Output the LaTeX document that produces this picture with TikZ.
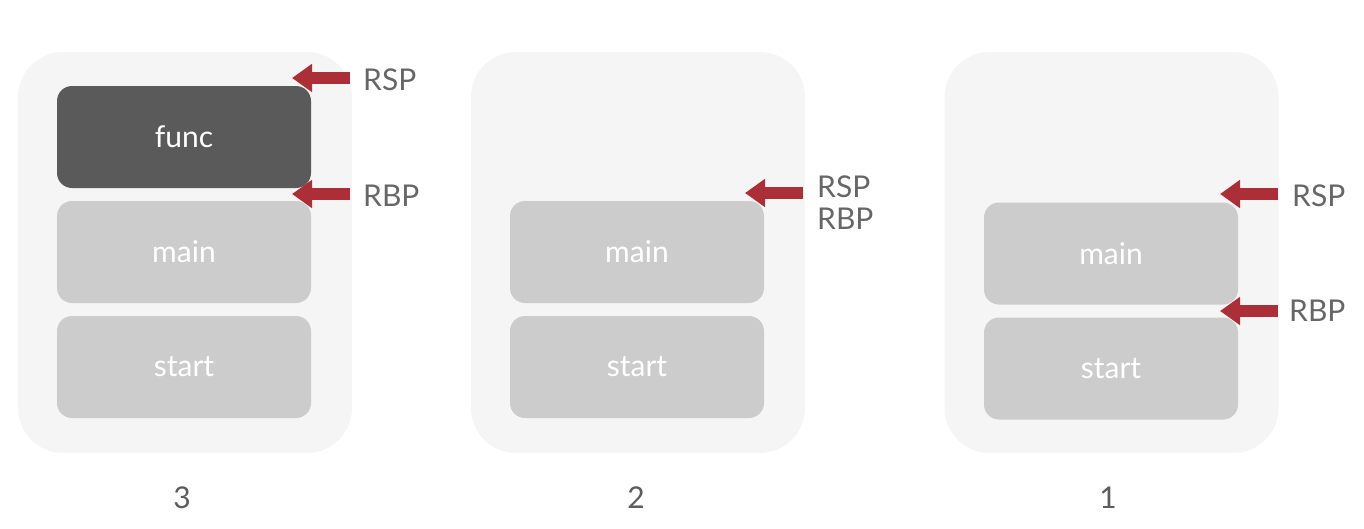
\documentclass[tikz,border=0pt]{standalone}
\usepackage{fontspec}
\setmainfont{Lato}
\usetikzlibrary{arrows.meta}
\definecolor{panelbg}{HTML}{F5F5F5}
\definecolor{framedark}{HTML}{5A5A5A}
\definecolor{framelight}{HTML}{CCCCCC}
\definecolor{ptrred}{HTML}{AC2E36}
\definecolor{labelgray}{HTML}{666666}
\begin{document}
\begin{tikzpicture}[x=1pt,y=-1pt,
  panel/.style={fill=panelbg, draw=none, rounded corners=45pt, minimum width=334pt, minimum height=401pt, inner sep=0pt},
  frame/.style={fill=framelight, draw=none, rounded corners=15pt, minimum width=254pt, minimum height=102pt, inner sep=0pt, text=white, font=\fontsize{30}{36}\selectfont},
  framedk/.style={frame, fill=framedark},
  reg/.style={text=labelgray, font=\fontsize{30}{36}\selectfont, anchor=west, inner sep=0pt},
  num/.style={text=labelgray!90!black, font=\fontsize{30}{36}\selectfont, inner sep=0pt},
  ptr/.style={draw=ptrred, line width=12pt, -{Triangle[length=20pt,width=27pt]}}]
\useasboundingbox (0,0) rectangle (1364,528);
% panel 3
\node[panel] (p3) at (185,252.5) {};
\node[framedk] (f3) at (184,137) {func};
\node[frame] (m3) at (184,252) {main};
\node[frame] (s3) at (184,367) {start};
\node[reg] (rsp3) at (363,80) {RSP};
\node[reg] (rbp3) at (363,196) {RBP};
\coordinate (t3a) at (292,78);
\coordinate (t3b) at (292,194);
\draw[ptr] (rsp3.west) ++(-13,-2) -- (t3a);
\draw[ptr] (rbp3.west) ++(-13,-2) -- (t3b);
\node[num] (n3) at (182,498) {3};
% panel 2
\node[panel] (p2) at (638,252.5) {};
\node[frame] (m2) at (637,252) {main};
\node[frame] (s2) at (637,367) {start};
\node[reg] (rsp2) at (817,187) {RSP};
\node[reg] (rbp2) at (817,219) {RBP};
\coordinate (t2a) at (745,193);
\draw[ptr] (rsp2.west) ++(-14,6) -- (t2a);
\node[num] (n2) at (636,498) {2};
% panel 1
\node[panel] (p1) at (1111.5,252.5) {};
\node[frame] (m1) at (1111,253.5) {main};
\node[frame] (s1) at (1111,368.5) {start};
\node[reg] (rsp1) at (1292,196) {RSP};
\node[reg] (rbp1) at (1289,311) {RBP};
\coordinate (t1a) at (1220,194);
\coordinate (t1b) at (1220,311);
\draw[ptr] (rsp1.west) ++(-14,-2) -- (t1a);
\draw[ptr] (rbp1.west) ++(-11,0) -- (t1b);
\node[num] (n1) at (1108,498) {1};
\end{tikzpicture}
\end{document}
